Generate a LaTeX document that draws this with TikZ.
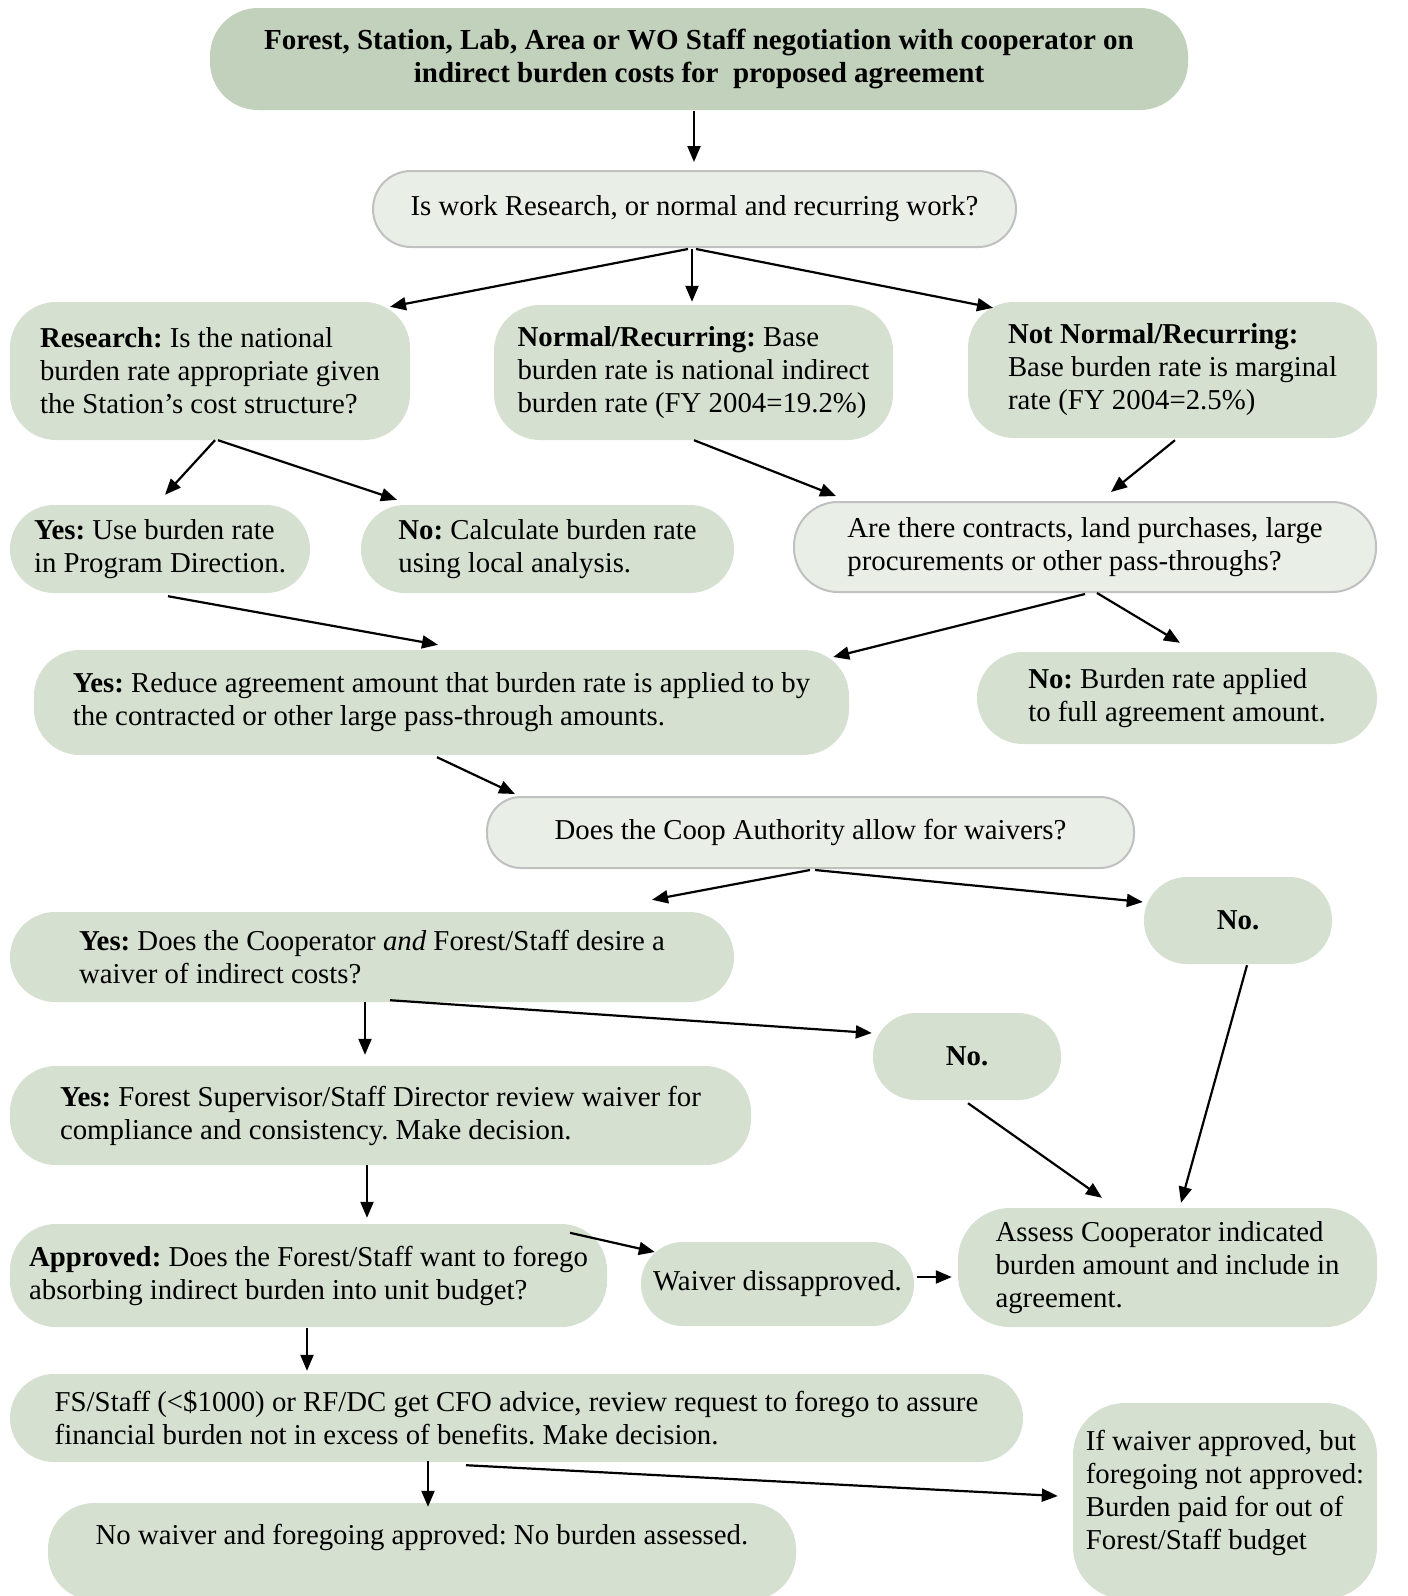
\documentclass[tikz,border=0pt]{standalone}
\usepackage{fontspec}
\setmainfont{Liberation Serif}
\usetikzlibrary{calc,arrows.meta}
\definecolor{topg}{RGB}{194,209,188}
\definecolor{boxg}{RGB}{214,224,209}
\definecolor{qg}{RGB}{233,239,231}
\definecolor{qb}{RGB}{192,192,192}
\tikzset{
  txt/.style={align=left, inner sep=0pt, font={\fontsize{28.8}{33}\selectfont\frenchspacing}},
  box/.style={txt, fill=boxg, rounded corners=46pt},
  topbox/.style={txt, align=center, fill=topg, rounded corners=48pt, font={\fontsize{29}{33}\selectfont\bfseries\frenchspacing}},
  qbox/.style={txt, fill=qg, draw=qb, line width=2pt, rounded corners=36pt},
  arr/.style={line width=2.2pt, -{Triangle[length=16pt,width=13pt]}},
}
\begin{document}
\begin{tikzpicture}[x=1pt,y=-1pt]
\useasboundingbox (0,0) rectangle (1408,1596);
\fill[white] (0,0) rectangle (1408,1596);

\node[topbox, minimum width=978pt, minimum height=102pt] (top) at (699,59)
  {Forest, Station, Lab, Area or WO Staff negotiation with cooperator on\\indirect burden costs for\ \ proposed agreement};
\node[qbox, minimum width=643pt, minimum height=76pt, rounded corners=38pt] (q1) at (694.5,209)
  {Is work Research, or normal and recurring work?};
\node[box, minimum width=400pt, minimum height=138pt] (research) at (210,371)
  {\textbf{Research:} Is the national\\burden rate appropriate given\\the Station’s cost structure?};
\node[box, minimum width=399pt, minimum height=135pt] (normal) at (693.5,372.5)
  {\textbf{Normal/Recurring:} Base\\burden rate is national indirect\\burden rate (FY 2004=19.2\%)};
\node[box, minimum width=409pt, minimum height=136pt] (notnormal) at (1172.5,370)
  {\textbf{Not Normal/Recurring:}\\Base burden rate is marginal\\rate (FY 2004=2.5\%)};
\node[box, minimum width=300pt, minimum height=88pt, rounded corners=44pt] (yes1) at (160,549)
  {\textbf{Yes:} Use burden rate\\in Program Direction.};
\node[box, minimum width=373pt, minimum height=88pt, rounded corners=44pt] (no1) at (547.5,549)
  {\textbf{No:} Calculate burden rate\\using local analysis.};
\node[qbox, minimum width=582pt, minimum height=90pt, rounded corners=44pt] (q2) at (1085,547)
  {Are there contracts, land purchases, large\\procurements or other pass-throughs?};
\node[box, minimum width=815pt, minimum height=105pt] (reduce) at (441.5,702.5)
  {\textbf{Yes:} Reduce agreement amount that burden rate is applied to by\\the contracted or other large pass-through amounts.};
\node[box, minimum width=400pt, minimum height=92pt] (noburden) at (1177,698)
  {\textbf{No:} Burden rate applied\\to full agreement amount.};
\node[qbox, minimum width=647pt, minimum height=71pt, rounded corners=34pt] (q3) at (810.5,832.5)
  {Does the Coop Authority allow for waivers?};
\node[box, minimum width=724pt, minimum height=90pt, rounded corners=45pt] (yes3) at (372,957)
  {\textbf{Yes:} Does the Cooperator \textit{and} Forest/Staff desire a\\waiver of indirect costs?};
\node[box, minimum width=188pt, minimum height=87pt, rounded corners=43pt] (no3a) at (1238,920.5)
  {\textbf{No.}};
\node[box, minimum width=188pt, minimum height=87pt, rounded corners=43pt] (no3b) at (967,1056.5)
  {\textbf{No.}};
\node[box, minimum width=741pt, minimum height=99pt] (review) at (380.5,1115.5)
  {\textbf{Yes:} Forest Supervisor/Staff Director review waiver for\\compliance and consistency. Make decision.};
\node[box, minimum width=597pt, minimum height=103pt] (approved) at (308.5,1275.5)
  {\textbf{Approved:} Does the Forest/Staff want to forego\\absorbing indirect burden into unit budget?};
\node[box, minimum width=273pt, minimum height=84pt, rounded corners=42pt] (disapproved) at (777.5,1284)
  {Waiver dissapproved.};
\node[box, minimum width=419pt, minimum height=119pt, rounded corners=52pt] (assess) at (1167.5,1267.5)
  {Assess Cooperator indicated\\burden amount and include in\\agreement.};
\node[box, minimum width=1013pt, minimum height=88pt, rounded corners=44pt] (fs) at (516.5,1418)
  {FS/Staff (<\$1000) or RF/DC get CFO advice, review request to forego to assure\\financial burden not in excess of benefits. Make decision.};
\node[box, minimum width=748pt, minimum height=97pt] (nowaiver) at (422,1551.5)
  {No waiver and foregoing approved: No burden assessed.\\[2pt]\mbox{}};
\node[box, minimum width=304pt, minimum height=196pt, rounded corners=52pt] (ifwaiver) at (1225,1501)
  {If waiver approved, but\\foregoing not approved:\\Burden paid for out of\\Forest/Staff budget\\[-10pt]\mbox{}};

\draw[arr] ($(top.south)+(-5,1)$) -- ($(q1.north)+(-0.5,-8)$);
\draw[arr] ($(q1.south)+(-6.5,1)$) -- ($(research.north)+(180,5)$);
\draw[arr] ($(q1.south)+(-2.5,1)$) -- ($(normal.north)+(-1.5,-3)$);
\draw[arr] ($(q1.south)+(1.5,1)$) -- ($(notnormal.north)+(-179.5,6)$);
\draw[arr] ($(research.south)+(5,0)$) -- ($(yes1.north)+(5,-10)$);
\draw[arr] ($(research.south)+(8,0)$) -- ($(no1.north)+(-150.5,-5)$);
\draw[arr] ($(normal.south)+(0.5,0)$) -- ($(q2.north)+(-249,-5)$);
\draw[arr] ($(notnormal.south)+(2.5,2)$) -- ($(q2.north)+(26,-9)$);
\draw[arr] ($(yes1.south)+(8,3)$) -- ($(reduce.north)+(-3.5,-5)$);
\draw[arr] ($(q2.south)+(0,1)$) -- ($(reduce.east)+(-16,-45.5)$);
\draw[arr] ($(q2.south)+(12,0)$) -- ($(noburden.north)+(3,-9)$);
\draw[arr] ($(reduce.south)+(-4.5,2)$) -- ($(q3.north)+(-295.5,-2)$);
\draw[arr] ($(q3.south)+(-0.5,1)$) -- ($(yes3.north)+(280,-12)$);
\draw[arr] ($(q3.south)+(4.5,1)$) -- ($(no3a.west)+(-1,-18.5)$);
\draw[arr] ($(yes3.south)+(-7,0)$) -- ($(review.north)+(-15.5,-11)$);
\draw[arr] ($(yes3.south)+(18,-2)$) -- ($(no3b.west)+(-1,-23.5)$);
\draw[arr] ($(no3b.south)+(1,3)$) -- ($(assess.north)+(-65.5,-10)$);
\draw[arr] ($(no3a.south)+(9,1)$) -- ($(assess.north)+(13.5,-5)$);
\draw[arr] ($(review.south)+(-13.5,0)$) -- ($(approved.north)+(58.5,-6)$);
\draw[arr] ($(approved.north)+(261.5,9)$) -- ($(disapproved.west)+(14,-32)$);
\draw[arr] ($(disapproved.east)+(3,-7)$) -- ($(assess.west)+(-6,9.5)$);
\draw[arr] ($(approved.south)+(-1.5,1)$) -- ($(fs.north)+(-209.5,-3)$);
\draw[arr] ($(fs.south)+(-88.5,-1)$) -- ($(nowaiver.north)+(6,4)$);
\draw[arr] ($(fs.south)+(-50.5,3)$) -- ($(ifwaiver.west)+(-15,-5)$);
\end{tikzpicture}
\end{document}
